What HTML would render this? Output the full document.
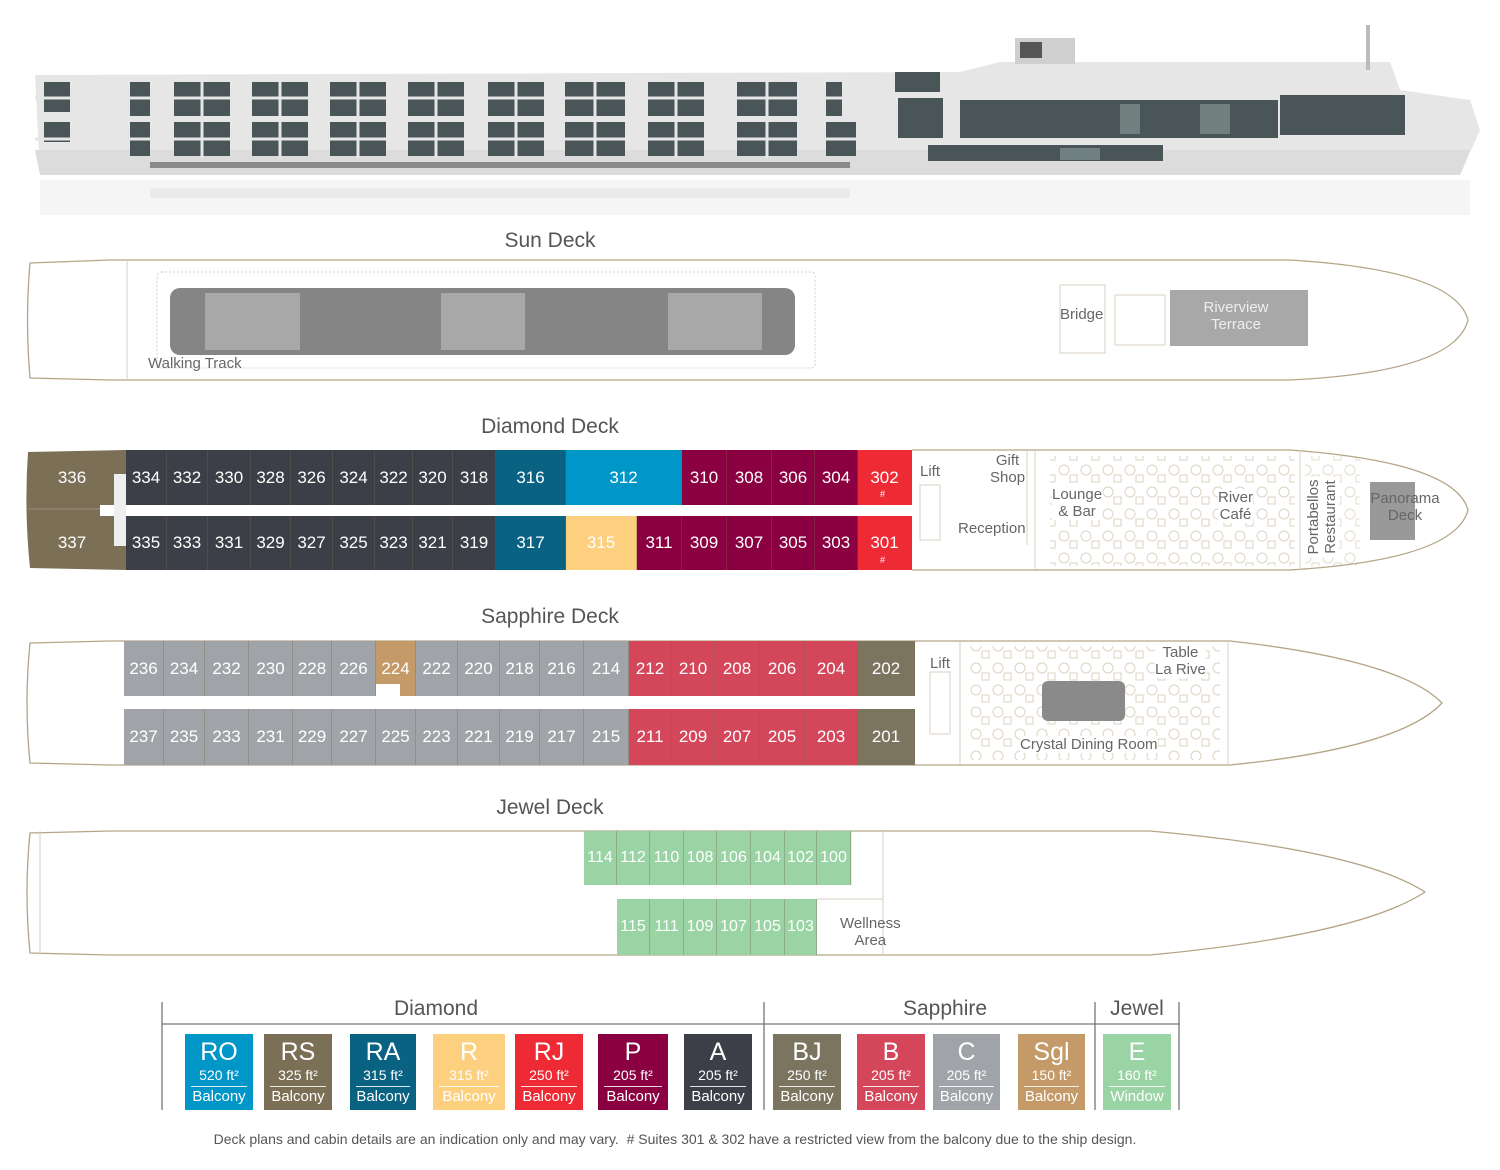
<!DOCTYPE html>
<html><head><meta charset="utf-8">
<style>
*{margin:0;padding:0;box-sizing:border-box}
body{width:1500px;height:1170px;background:#fff;position:relative;overflow:hidden;font-family:"Liberation Sans",sans-serif}
.a{position:absolute}
.c{position:absolute;color:#fff;display:flex;align-items:center;justify-content:center;font-size:17px;border-right:1px solid rgba(120,100,80,.35)}
.t{position:absolute;color:#555;font-size:21px;text-align:center}
.l{position:absolute;color:#666;font-size:14px;text-align:center;line-height:17px}
.lg{position:absolute;top:1034px;height:76px;color:#fff;text-align:center}
.lg b{display:block;font-weight:normal;font-size:25px;line-height:30px;margin-top:3px}
.lg i{display:block;font-style:normal;font-size:14px;line-height:16px;padding-bottom:3px;border-bottom:1px solid rgba(255,255,255,.85);margin:0 6px}
.lg s{display:block;text-decoration:none;font-size:15px;line-height:20px}
</style></head><body>
<svg class="a" style="left:0;top:0" width="1500" height="1170">
<defs>
<pattern id="fur" width="22" height="22" patternUnits="userSpaceOnUse">
<circle cx="8" cy="8" r="5" fill="none" stroke="#ddd3c2" stroke-width="1"/>
<rect x="14" y="13" width="7" height="7" fill="none" stroke="#ddd3c2" stroke-width="1"/>
</pattern>
</defs>
<!-- ship photo -->
<g>
<rect x="40" y="180" width="1430" height="35" fill="#f5f5f5"/>
<path d="M35,75 L960,72 L1000,62 L1390,62 L1400,90 L1470,100 L1480,130 L1460,175 L40,175 Z" fill="#e6e6e6"/>
<path d="M35,150 L1470,150 L1460,175 L40,175Z" fill="#dcdcdc"/>
<rect x="1015" y="38" width="60" height="26" fill="#cfcfcf"/>
<rect x="1020" y="42" width="22" height="16" fill="#555"/>
<rect x="1366" y="25" width="4" height="45" fill="#bbb"/>
<g fill="#4a5558">
<rect x="44" y="82" width="26" height="30"/><rect x="44" y="122" width="26" height="20"/>
<rect x="130" y="82" width="20" height="34"/><rect x="130" y="122" width="20" height="34"/>
<rect x="174" y="82" width="56" height="34"/><rect x="174" y="122" width="56" height="34"/>
<rect x="252" y="82" width="56" height="34"/><rect x="252" y="122" width="56" height="34"/>
<rect x="330" y="82" width="56" height="34"/><rect x="330" y="122" width="56" height="34"/>
<rect x="408" y="82" width="56" height="34"/><rect x="408" y="122" width="56" height="34"/>
<rect x="488" y="82" width="56" height="34"/><rect x="488" y="122" width="56" height="34"/>
<rect x="565" y="82" width="60" height="34"/><rect x="565" y="122" width="60" height="34"/>
<rect x="648" y="82" width="56" height="34"/><rect x="648" y="122" width="56" height="34"/>
<rect x="737" y="82" width="60" height="34"/><rect x="737" y="122" width="60" height="34"/>
<rect x="826" y="82" width="16" height="34"/><rect x="826" y="122" width="30" height="34"/>
<rect x="898" y="98" width="45" height="40"/>
<rect x="960" y="100" width="318" height="38"/>
<rect x="1280" y="95" width="125" height="40"/>
<rect x="928" y="145" width="235" height="16"/>
<rect x="895" y="72" width="45" height="20"/>
</g>
<g stroke="#e6e6e6" stroke-width="3">
<line x1="35" y1="98" x2="860" y2="98"/><line x1="35" y1="139" x2="860" y2="139"/>
<line x1="202" y1="80" x2="202" y2="158"/><line x1="280" y1="80" x2="280" y2="158"/>
<line x1="358" y1="80" x2="358" y2="158"/><line x1="436" y1="80" x2="436" y2="158"/>
<line x1="516" y1="80" x2="516" y2="158"/><line x1="595" y1="80" x2="595" y2="158"/>
<line x1="676" y1="80" x2="676" y2="158"/><line x1="767" y1="80" x2="767" y2="158"/>
</g>
<g fill="#7a8a8a" opacity=".8">
<rect x="1120" y="104" width="20" height="30"/><rect x="1200" y="104" width="30" height="30"/>
<rect x="1060" y="148" width="40" height="12"/>
</g>
<g fill="#666" opacity=".7">
<rect x="150" y="162" width="700" height="6"/>
</g>
<rect x="150" y="188" width="700" height="10" fill="#ebebeb"/>
</g>
<!-- furniture textures -->
<rect x="1050" y="456" width="245" height="110" fill="url(#fur)"/>
<rect x="1305" y="456" width="55" height="110" fill="url(#fur)" opacity=".8"/>
<rect x="970" y="646" width="250" height="114" fill="url(#fur)"/>
<!-- hull outlines -->
<g fill="none" stroke="#b5a487" stroke-width="1.3">
<path d="M30,263 L110,260 L1290,260 Q1455,270 1468,320 Q1455,372 1290,380 L110,380 L30,378 Q25,320 30,263Z"/>
<path d="M912,450 L1290,450 Q1455,462 1468,510 Q1455,560 1290,570 L912,570"/>
<path d="M30,643 L110,641 L1230,641 Q1400,660 1442,703 Q1400,748 1230,765 L110,765 L30,763 Q24,703 30,643Z"/>
<path d="M30,833 L110,831 L1150,831 Q1360,850 1425,892 Q1360,935 1150,955 L110,955 L30,953 Q24,892 30,833Z"/>
</g>
<g fill="none" stroke="#d8cfc0" stroke-width="1">
<rect x="157" y="272" width="658" height="96" rx="4" stroke-dasharray="2,2"/>
<line x1="127" y1="260" x2="127" y2="380"/>
<rect x="1060" y="285" width="45" height="68"/><rect x="1115" y="295" width="50" height="50"/>
<line x1="1035" y1="450" x2="1035" y2="570"/><line x1="1300" y1="450" x2="1300" y2="570"/><line x1="1027" y1="450" x2="1027" y2="545"/>
<line x1="960" y1="641" x2="960" y2="765"/><line x1="1228" y1="641" x2="1228" y2="765"/>
<line x1="851" y1="831" x2="851" y2="885"/><line x1="883" y1="831" x2="883" y2="955"/><line x1="817" y1="899" x2="883" y2="899"/>
<line x1="40" y1="831" x2="40" y2="955"/>
<rect x="920" y="485" width="20" height="55"/><rect x="930" y="672" width="20" height="62"/>
</g>
<rect x="170" y="288" width="625" height="67" rx="10" fill="#858585"/>
<rect x="205" y="293" width="95" height="57" fill="#a8a8a8"/>
<rect x="441" y="293" width="84" height="57" fill="#a8a8a8"/>
<rect x="668" y="293" width="94" height="57" fill="#a8a8a8"/>
<rect x="1170" y="290" width="138" height="56" fill="#a8a8a8"/>
<rect x="1370" y="482" width="45" height="58" fill="#999"/>
<rect x="1042" y="681" width="83" height="40" rx="6" fill="#8a8a8a"/>
<!-- diamond left hull -->
<path d="M28,452 L126,450 L126,570 L30,568 Q24,510 28,452Z" fill="#7b6f55"/>
<line x1="28" y1="509" x2="100" y2="509" stroke="#9a8f78"/>
<rect x="100" y="505" width="812" height="11" fill="#fff"/>
<rect x="114" y="474" width="12" height="72" fill="#eee"/>
<!-- legend lines -->
<g stroke="#777" stroke-width="1.3">
<line x1="162" y1="1024" x2="1180" y2="1024"/>
<line x1="162" y1="1002" x2="162" y2="1110"/>
<line x1="764" y1="1002" x2="764" y2="1110"/>
<line x1="1095" y1="1002" x2="1095" y2="1110"/>
<line x1="1179" y1="1002" x2="1179" y2="1110"/>
</g>
</svg>

<div class="t" style="left:450px;top:229px;width:200px">Sun Deck</div>
<div class="t" style="left:450px;top:415px;width:200px">Diamond Deck</div>
<div class="t" style="left:450px;top:605px;width:200px">Sapphire Deck</div>
<div class="t" style="left:450px;top:796px;width:200px">Jewel Deck</div>

<div class="l" style="left:148px;top:355px;text-align:left;font-size:15px">Walking Track</div>
<div class="l" style="left:1060px;top:306px;font-size:15px">Bridge</div>
<div class="l" style="left:1196px;top:299px;font-size:15px;color:#eee;width:80px">Riverview<br>Terrace</div>

<!-- Diamond cabins -->
<div class="c" style="left:28px;top:450px;width:88px;height:55px;border:none;background:none">336</div>
<div class="c" style="left:28px;top:516px;width:88px;height:54px;border:none;background:none">337</div>
<div class="c" style="left:126px;top:450px;width:41px;height:55px;background:#3c3f47">334</div>
<div class="c" style="left:167px;top:450px;width:41px;height:55px;background:#3c3f47">332</div>
<div class="c" style="left:208px;top:450px;width:43px;height:55px;background:#3c3f47">330</div>
<div class="c" style="left:251px;top:450px;width:40px;height:55px;background:#3c3f47">328</div>
<div class="c" style="left:291px;top:450px;width:42px;height:55px;background:#3c3f47">326</div>
<div class="c" style="left:333px;top:450px;width:42px;height:55px;background:#3c3f47">324</div>
<div class="c" style="left:375px;top:450px;width:38px;height:55px;background:#3c3f47">322</div>
<div class="c" style="left:413px;top:450px;width:40px;height:55px;background:#3c3f47">320</div>
<div class="c" style="left:453px;top:450px;width:43px;height:55px;background:#3c3f47">318</div>
<div class="c" style="left:496px;top:450px;width:70px;height:55px;background:#0a6282">316</div>
<div class="c" style="left:566px;top:450px;width:116px;height:55px;background:#0096c8">312</div>
<div class="c" style="left:682px;top:450px;width:45px;height:55px;background:#8a0040">310</div>
<div class="c" style="left:727px;top:450px;width:45px;height:55px;background:#8a0040">308</div>
<div class="c" style="left:772px;top:450px;width:43px;height:55px;background:#8a0040">306</div>
<div class="c" style="left:815px;top:450px;width:43px;height:55px;background:#8a0040">304</div>
<div class="c" style="left:858px;top:450px;width:54px;height:55px;background:#ee2a35">302</div>
<div class="c" style="left:126px;top:516px;width:41px;height:54px;background:#3c3f47">335</div>
<div class="c" style="left:167px;top:516px;width:41px;height:54px;background:#3c3f47">333</div>
<div class="c" style="left:208px;top:516px;width:43px;height:54px;background:#3c3f47">331</div>
<div class="c" style="left:251px;top:516px;width:40px;height:54px;background:#3c3f47">329</div>
<div class="c" style="left:291px;top:516px;width:42px;height:54px;background:#3c3f47">327</div>
<div class="c" style="left:333px;top:516px;width:42px;height:54px;background:#3c3f47">325</div>
<div class="c" style="left:375px;top:516px;width:38px;height:54px;background:#3c3f47">323</div>
<div class="c" style="left:413px;top:516px;width:40px;height:54px;background:#3c3f47">321</div>
<div class="c" style="left:453px;top:516px;width:43px;height:54px;background:#3c3f47">319</div>
<div class="c" style="left:496px;top:516px;width:70px;height:54px;background:#0a6282">317</div>
<div class="c" style="left:566px;top:516px;width:71px;height:54px;background:#fdd080">315</div>
<div class="c" style="left:637px;top:516px;width:45px;height:54px;background:#8a0040">311</div>
<div class="c" style="left:682px;top:516px;width:45px;height:54px;background:#8a0040">309</div>
<div class="c" style="left:727px;top:516px;width:45px;height:54px;background:#8a0040">307</div>
<div class="c" style="left:772px;top:516px;width:43px;height:54px;background:#8a0040">305</div>
<div class="c" style="left:815px;top:516px;width:43px;height:54px;background:#8a0040">303</div>
<div class="c" style="left:858px;top:516px;width:54px;height:54px;background:#ee2a35">301</div>
<div class="a" style="left:880px;top:489px;color:#fff;font-size:9px">#</div>
<div class="a" style="left:880px;top:555px;color:#fff;font-size:9px">#</div>

<div class="l" style="left:920px;top:463px;font-size:15px">Lift</div>
<div class="l" style="left:990px;top:452px;font-size:15px">Gift<br>Shop</div>
<div class="l" style="left:958px;top:520px;font-size:15px;background:#fff">Reception</div>
<div class="l" style="left:1052px;top:486px;font-size:15px;background:#fff">Lounge<br>&amp; Bar</div>
<div class="l" style="left:1218px;top:489px;font-size:15px;background:#fff">River<br>Café</div>
<div class="l" style="left:1300px;top:500px;font-size:15px;transform:rotate(-90deg);width:80px;margin-left:-18px;background:#fff">Portabellos<br>Restaurant</div>
<div class="l" style="left:1370px;top:490px;font-size:15px;width:70px">Panorama<br>Deck</div>

<!-- Sapphire cabins -->
<div class="c" style="left:124px;top:641px;width:40px;height:55px;background:#a0a4a8">236</div>
<div class="c" style="left:164px;top:641px;width:41px;height:55px;background:#a0a4a8">234</div>
<div class="c" style="left:205px;top:641px;width:44px;height:55px;background:#a0a4a8">232</div>
<div class="c" style="left:249px;top:641px;width:44px;height:55px;background:#a0a4a8">230</div>
<div class="c" style="left:293px;top:641px;width:39px;height:55px;background:#a0a4a8">228</div>
<div class="c" style="left:332px;top:641px;width:44px;height:55px;background:#a0a4a8">226</div>
<div class="c" style="left:376px;top:641px;width:40px;height:55px;background:#c49a68">224</div>
<div class="c" style="left:416px;top:641px;width:42px;height:55px;background:#a0a4a8">222</div>
<div class="c" style="left:458px;top:641px;width:42px;height:55px;background:#a0a4a8">220</div>
<div class="c" style="left:500px;top:641px;width:40px;height:55px;background:#a0a4a8">218</div>
<div class="c" style="left:540px;top:641px;width:44px;height:55px;background:#a0a4a8">216</div>
<div class="c" style="left:584px;top:641px;width:45px;height:55px;background:#a0a4a8">214</div>
<div class="c" style="left:629px;top:641px;width:43px;height:55px;background:#d4465a">212</div>
<div class="c" style="left:672px;top:641px;width:43px;height:55px;background:#d4465a">210</div>
<div class="c" style="left:715px;top:641px;width:45px;height:55px;background:#d4465a">208</div>
<div class="c" style="left:760px;top:641px;width:45px;height:55px;background:#d4465a">206</div>
<div class="c" style="left:805px;top:641px;width:53px;height:55px;background:#d4465a">204</div>
<div class="c" style="left:858px;top:641px;width:57px;height:55px;background:#7b7560">202</div>
<div class="a" style="left:376px;top:684px;width:24px;height:12px;background:#fff"></div>
<div class="c" style="left:124px;top:709px;width:40px;height:56px;background:#a0a4a8">237</div>
<div class="c" style="left:164px;top:709px;width:41px;height:56px;background:#a0a4a8">235</div>
<div class="c" style="left:205px;top:709px;width:44px;height:56px;background:#a0a4a8">233</div>
<div class="c" style="left:249px;top:709px;width:44px;height:56px;background:#a0a4a8">231</div>
<div class="c" style="left:293px;top:709px;width:39px;height:56px;background:#a0a4a8">229</div>
<div class="c" style="left:332px;top:709px;width:44px;height:56px;background:#a0a4a8">227</div>
<div class="c" style="left:376px;top:709px;width:40px;height:56px;background:#a0a4a8">225</div>
<div class="c" style="left:416px;top:709px;width:42px;height:56px;background:#a0a4a8">223</div>
<div class="c" style="left:458px;top:709px;width:42px;height:56px;background:#a0a4a8">221</div>
<div class="c" style="left:500px;top:709px;width:40px;height:56px;background:#a0a4a8">219</div>
<div class="c" style="left:540px;top:709px;width:44px;height:56px;background:#a0a4a8">217</div>
<div class="c" style="left:584px;top:709px;width:45px;height:56px;background:#a0a4a8">215</div>
<div class="c" style="left:629px;top:709px;width:43px;height:56px;background:#d4465a">211</div>
<div class="c" style="left:672px;top:709px;width:43px;height:56px;background:#d4465a">209</div>
<div class="c" style="left:715px;top:709px;width:45px;height:56px;background:#d4465a">207</div>
<div class="c" style="left:760px;top:709px;width:45px;height:56px;background:#d4465a">205</div>
<div class="c" style="left:805px;top:709px;width:53px;height:56px;background:#d4465a">203</div>
<div class="c" style="left:858px;top:709px;width:57px;height:56px;background:#7b7560">201</div>

<div class="l" style="left:930px;top:655px;font-size:15px">Lift</div>
<div class="l" style="left:1155px;top:644px;font-size:15px;background:#fff">Table<br>La Rive</div>
<div class="l" style="left:1020px;top:736px;font-size:15px;background:#fff">Crystal Dining Room</div>

<!-- Jewel cabins -->
<div class="c" style="left:584px;top:831px;width:33px;height:54px;background:#9ad3a4;font-size:16px">114</div>
<div class="c" style="left:617px;top:831px;width:33px;height:54px;background:#9ad3a4;font-size:16px">112</div>
<div class="c" style="left:650px;top:831px;width:34px;height:54px;background:#9ad3a4;font-size:16px">110</div>
<div class="c" style="left:684px;top:831px;width:33px;height:54px;background:#9ad3a4;font-size:16px">108</div>
<div class="c" style="left:717px;top:831px;width:34px;height:54px;background:#9ad3a4;font-size:16px">106</div>
<div class="c" style="left:751px;top:831px;width:34px;height:54px;background:#9ad3a4;font-size:16px">104</div>
<div class="c" style="left:785px;top:831px;width:32px;height:54px;background:#9ad3a4;font-size:16px">102</div>
<div class="c" style="left:817px;top:831px;width:34px;height:54px;background:#9ad3a4;font-size:16px">100</div>
<div class="c" style="left:617px;top:899px;width:33px;height:56px;background:#9ad3a4;font-size:16px">115</div>
<div class="c" style="left:650px;top:899px;width:34px;height:56px;background:#9ad3a4;font-size:16px">111</div>
<div class="c" style="left:684px;top:899px;width:33px;height:56px;background:#9ad3a4;font-size:16px">109</div>
<div class="c" style="left:717px;top:899px;width:34px;height:56px;background:#9ad3a4;font-size:16px">107</div>
<div class="c" style="left:751px;top:899px;width:34px;height:56px;background:#9ad3a4;font-size:16px">105</div>
<div class="c" style="left:785px;top:899px;width:32px;height:56px;background:#9ad3a4;font-size:16px">103</div>
<div class="l" style="left:840px;top:915px;font-size:15px">Wellness<br>Area</div>

<!-- Legend -->
<div class="t" style="left:336px;top:997px;width:200px">Diamond</div>
<div class="t" style="left:845px;top:997px;width:200px">Sapphire</div>
<div class="t" style="left:1097px;top:997px;width:80px">Jewel</div>
<div class="lg" style="left:185px;width:68px;background:#0096c8"><b>RO</b><i>520 ft²</i><s>Balcony</s></div>
<div class="lg" style="left:264px;width:68px;background:#7b6f55"><b>RS</b><i>325 ft²</i><s>Balcony</s></div>
<div class="lg" style="left:350px;width:66px;background:#0a6282"><b>RA</b><i>315 ft²</i><s>Balcony</s></div>
<div class="lg" style="left:433px;width:72px;background:#fdd080"><b>R</b><i>315 ft²</i><s>Balcony</s></div>
<div class="lg" style="left:515px;width:68px;background:#ee2a35"><b>RJ</b><i>250 ft²</i><s>Balcony</s></div>
<div class="lg" style="left:598px;width:70px;background:#8a0040"><b>P</b><i>205 ft²</i><s>Balcony</s></div>
<div class="lg" style="left:684px;width:68px;background:#3c3f47"><b>A</b><i>205 ft²</i><s>Balcony</s></div>
<div class="lg" style="left:773px;width:68px;background:#7b7560"><b>BJ</b><i>250 ft²</i><s>Balcony</s></div>
<div class="lg" style="left:857px;width:68px;background:#d4465a"><b>B</b><i>205 ft²</i><s>Balcony</s></div>
<div class="lg" style="left:933px;width:67px;background:#a0a4a8"><b>C</b><i>205 ft²</i><s>Balcony</s></div>
<div class="lg" style="left:1018px;width:67px;background:#c49a68"><b>Sgl</b><i>150 ft²</i><s>Balcony</s></div>
<div class="lg" style="left:1103px;width:68px;background:#9ad3a4"><b>E</b><i>160 ft²</i><s>Window</s></div>

<div class="a" style="left:0;top:1131px;width:1350px;text-align:center;font-size:14px;color:#555">Deck plans and cabin details are an indication only and may vary.&nbsp; # Suites 301 &amp; 302 have a restricted view from the balcony due to the ship design.</div>
</body></html>
